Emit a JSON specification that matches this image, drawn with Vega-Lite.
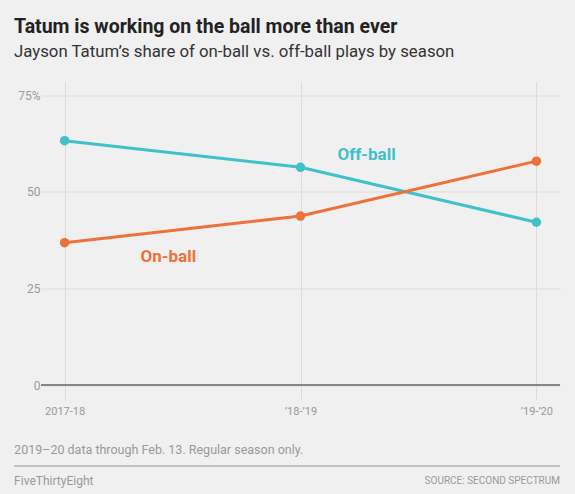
{
  "$schema": "https://vega.github.io/schema/vega-lite/v6.json",
  "autosize": {"type": "none"},
  "width": 519,
  "height": 303.5,
  "padding": {"left": 41, "top": 81.5, "right": 15, "bottom": 109.5},
  "background": "#f0f0f0",
  "config": {
    "view": {"stroke": null},
    "font": "Roboto",
    "axis": {"labelFont": "Roboto", "labelColor": "#999999", "labelFontSize": 11, "domain": false, "gridColor": "#dcdcdc", "gridWidth": 1}
  },
  "title": {
    "text": "Tatum is working on the ball more than ever",
    "subtitle": "Jayson Tatum’s share of on-ball vs. off-ball plays by season",
    "anchor": "start",
    "frame": "group",
    "dx": -27,
    "offset": 20,
    "font": "Roboto",
    "fontSize": 19.5,
    "fontWeight": "bold",
    "color": "#222222",
    "subtitleFont": "Roboto",
    "subtitleFontSize": 16.8,
    "subtitleColor": "#333333",
    "subtitlePadding": 6
  },
  "datasets": {
    "shares": [
      {"season": 0, "label": "2017-18", "type": "Off-ball", "share": 63.2},
      {"season": 1, "label": "’18-’19", "type": "Off-ball", "share": 56.3},
      {"season": 2, "label": "’19-’20", "type": "Off-ball", "share": 42.1},
      {"season": 0, "label": "2017-18", "type": "On-ball", "share": 36.8},
      {"season": 1, "label": "’18-’19", "type": "On-ball", "share": 43.7},
      {"season": 2, "label": "’19-’20", "type": "On-ball", "share": 57.9}
    ],
    "labels": [
      {"season": 1.28, "share": 59.5, "type": "Off-ball"},
      {"season": 0.44, "share": 33.1, "type": "On-ball"}
    ],
    "footer": [
      {"x": -0.214, "y": -16.8, "text": "2019–20 data through Feb. 13. Regular season only.", "kind": "note"},
      {"x": -0.214, "y": -24.8, "text": "FiveThirtyEight", "kind": "brand"},
      {"x": 2.1, "y": -24.8, "text": "SOURCE: SECOND SPECTRUM", "kind": "source"}
    ],
    "separator": [
      {"x": -0.214, "x2": 2.1, "y": -20.95}
    ],
    "baseline": [
      {"x": -0.1, "x2": 2.1, "y": 0}
    ]
  },
  "layer": [
    {
      "data": {"name": "shares"},
      "mark": {"type": "line", "strokeWidth": 3},
      "encoding": {
        "x": {
          "field": "season", "type": "quantitative",
          "scale": {"domain": [-0.1, 2.1], "nice": false, "zero": false},
          "axis": {
            "title": null, "values": [0, 1, 2],
            "labelExpr": "datum.value == 0 ? '2017-18' : datum.value == 1 ? '’18-’19' : '’19-’20'",
            "grid": true, "ticks": true, "tickSize": 15, "tickColor": "#dcdcdc", "labelPadding": 5, "labelFontSize": 11
          }
        },
        "y": {
          "field": "share", "type": "quantitative",
          "scale": {"domain": [0, 78.5], "nice": false},
          "axis": {
            "title": null, "values": [0, 25, 50, 75], "ticks": false, "labelPadding": 1, "labelFontSize": 12,
            "labelExpr": "datum.value == 75 ? '75%' : datum.label + '\u00a0\u00a0\u00a0'"
          }
        },
        "color": {
          "field": "type", "type": "nominal",
          "scale": {"domain": ["On-ball", "Off-ball"], "range": ["#ed713a", "#3fc1c9"]},
          "legend": null
        }
      }
    },
    {
      "data": {"name": "baseline"},
      "mark": {"type": "rule", "color": "#666666", "strokeWidth": 1.5},
      "encoding": {
        "x": {"field": "x", "type": "quantitative"},
        "x2": {"field": "x2"},
        "y": {"field": "y", "type": "quantitative"}
      }
    },
    {
      "data": {"name": "shares"},
      "mark": {"type": "circle", "size": 90, "opacity": 1},
      "encoding": {
        "x": {"field": "season", "type": "quantitative"},
        "y": {"field": "share", "type": "quantitative"},
        "color": {"field": "type", "type": "nominal", "legend": null}
      }
    },
    {
      "data": {"name": "labels"},
      "mark": {"type": "text", "font": "Roboto", "fontSize": 17, "fontWeight": "bold", "align": "center", "baseline": "middle"},
      "encoding": {
        "x": {"field": "season", "type": "quantitative"},
        "y": {"field": "share", "type": "quantitative"},
        "text": {"field": "type"},
        "color": {"field": "type", "type": "nominal", "legend": null}
      }
    },
    {
      "data": {"name": "footer"},
      "transform": [{"filter": "datum.kind == 'note'"}],
      "mark": {"type": "text", "font": "Roboto", "fontSize": 12.5, "align": "left", "baseline": "middle", "color": "#999999"},
      "encoding": {
        "x": {"field": "x", "type": "quantitative"},
        "y": {"field": "y", "type": "quantitative"},
        "text": {"field": "text"}
      }
    },
    {
      "data": {"name": "footer"},
      "transform": [{"filter": "datum.kind == 'brand'"}],
      "mark": {"type": "text", "font": "Roboto", "fontSize": 12, "align": "left", "baseline": "middle", "color": "#999999"},
      "encoding": {
        "x": {"field": "x", "type": "quantitative"},
        "y": {"field": "y", "type": "quantitative"},
        "text": {"field": "text"}
      }
    },
    {
      "data": {"name": "footer"},
      "transform": [{"filter": "datum.kind == 'source'"}],
      "mark": {"type": "text", "font": "Roboto", "fontSize": 10, "align": "right", "baseline": "middle", "color": "#999999"},
      "encoding": {
        "x": {"field": "x", "type": "quantitative"},
        "y": {"field": "y", "type": "quantitative"},
        "text": {"field": "text"}
      }
    },
    {
      "data": {"name": "separator"},
      "mark": {"type": "rule", "color": "#b0b0b0", "strokeWidth": 1.5},
      "encoding": {
        "x": {"field": "x", "type": "quantitative"},
        "x2": {"field": "x2"},
        "y": {"field": "y", "type": "quantitative"}
      }
    }
  ]
}
